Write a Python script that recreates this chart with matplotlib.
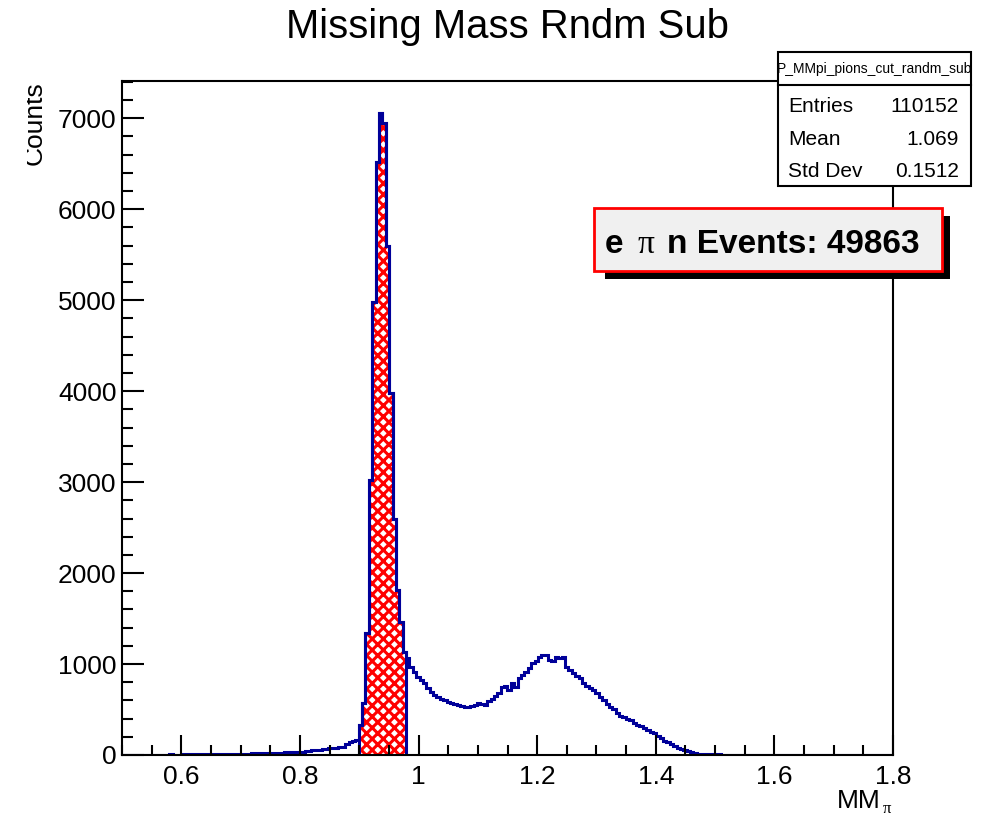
import numpy as np
import matplotlib.pyplot as plt
from matplotlib.patches import Rectangle
from matplotlib.ticker import MultipleLocator, FixedLocator
from matplotlib.transforms import Bbox

plt.rcParams['font.family'] = ['Liberation Sans', 'DejaVu Sans']
plt.rcParams['hatch.linewidth'] = 2.2

# ---- data ----
x_min, x_max = 0.5, 1.8
y_max = 7410

counts_tail = [2, 0, 3, 1, 2, 4, 0, 3, 2, 5, 1, 3, 4, 2, 6, 3, 5, 4,
               6, 8, 5, 7, 9, 6, 10, 8, 7, 11, 9, 12, 10, 8, 13, 11, 14, 12,
               15, 13, 17, 16, 19, 18, 22, 20, 24, 21, 26, 25, 28, 27, 31, 30, 34,
               38, 42, 45, 50, 55, 58, 62, 68, 72, 76, 80, 86, 92,
               120, 145, 150, 165]
counts_peak = [330, 570, 1340, 3020, 4980, 6520, 7060, 6950,
               5600, 3980, 2600, 1810, 1460, 1130, 1070, 970]
counts_hump = [910, 860, 820, 790, 740, 690, 660, 640, 620, 600,
               585, 570, 560, 550, 535, 530, 525, 535, 545, 570,
               560, 550, 595, 620, 650, 680, 750, 760, 715, 790,
               750, 845, 880, 910, 960, 1010, 1030, 1080, 1100, 1100,
               1040, 1035, 1080, 1070, 1075, 970, 935, 900, 870, 845,
               790, 760, 740, 715, 680, 640, 610, 560, 530, 505,
               460, 430, 415, 395, 380, 350, 330, 315, 295, 270,
               250, 240, 210, 185, 150, 140, 120, 95, 80, 70,
               55, 40, 32, 22, 15, 10]
counts_end = [8, 7, 6, 5, 6, 4, 5, 3, 4, 3,
              2, 3, 2, 2, 1, 2, 1, 1, 2, 0,
              1, 1, 0, 1, 0, 0, 1, 0, 0, 1,
              0, 0, 0, 1, 0, 0, 0, 0, 1, 0,
              0, 0, 0, 0, 0, 1, 0, 0, 0, 0,
              0, 0, 0, 0, 0, 0]

cut_lo, cut_hi = 0.899, 0.979

x_ticks = [0.6, 0.8, 1.0, 1.2, 1.4, 1.6, 1.8]
x_tick_labels = ['0.6', '0.8', '1', '1.2', '1.4', '1.6', '1.8']
y_ticks = [0, 1000, 2000, 3000, 4000, 5000, 6000, 7000]

hist_name = 'P_MMpi_pions_cut_randm_sub'
stat_names = ['Entries', 'Mean', 'Std Dev']
stat_values = ['110152', '1.069', '0.1512']
n_events = 49863

# ---- histogram arrays ----
counts = np.array(counts_tail + counts_peak + counts_hump + counts_end, dtype=float)
edges = np.linspace(x_min, x_max, len(counts) + 1)
centers = 0.5 * (edges[:-1] + edges[1:])
in_cut = np.where((centers >= cut_lo) & (centers <= cut_hi))[0]
i0, i1 = in_cut[0], in_cut[-1] + 1

W, H = 985, 817
fig = plt.figure(figsize=(W / 100, H / 100), dpi=100)
ax = fig.add_axes([122 / W, 1 - 755 / H, 771 / W, 674 / H])

blue = '#000099'
ax.stairs(counts[i0:i1], edges[i0:i1 + 1], fill=True, facecolor='white',
          edgecolor='red', hatch='xxx', linewidth=0)
ax.stairs(counts, edges, color=blue, linewidth=2.2)
ax.stairs(counts[i0:i1], edges[i0:i1 + 1], color=blue, linewidth=2.2)

ax.set_xlim(x_min, x_max)
ax.set_ylim(0, y_max)
ax.xaxis.set_major_locator(FixedLocator(x_ticks))
ax.set_xticklabels(x_tick_labels)
ax.xaxis.set_minor_locator(MultipleLocator(0.05))
ax.yaxis.set_major_locator(FixedLocator(y_ticks))
ax.yaxis.set_minor_locator(MultipleLocator(200))

ax.tick_params(axis='both', which='both', direction='in', width=1.5,
               top=False, right=False, labelsize=19)
ax.tick_params(axis='x', which='major', length=14.4, pad=7)
ax.tick_params(axis='x', which='minor', length=7.2)
ax.tick_params(axis='y', which='major', length=16, pad=4)
ax.tick_params(axis='y', which='minor', length=8)
for s in ax.spines.values():
    s.set_linewidth(1.5)

# ---- overlay in pixel coordinates for texts and boxes ----
ov = fig.add_axes([0, 0, 1, 1], zorder=5)
ov.set_xlim(0, W)
ov.set_ylim(H, 0)
ov.axis('off')

ov.text(507, 38, 'Missing Mass Rndm Sub', ha='center', va='baseline', fontsize=28.8)

t = ov.text(42, 81, 'Counts', rotation=90, rotation_mode='anchor',
            ha='right', va='baseline', fontsize=19)
t.set_clip_box(Bbox.from_extents(27, 0, W, H))
t.set_clip_on(True)

ov.text(881, 808, 'MM', ha='right', va='baseline', fontsize=19)
ov.text(883, 813, '\u03c0', ha='left', va='baseline', fontsize=12,
        family=['Liberation Serif', 'DejaVu Serif'])

# stats box
box = Rectangle((778, 52), 193, 134, facecolor='white', edgecolor='black', linewidth=1.5)
ov.add_patch(box)
ov.plot([778, 971], [85, 85], color='black', linewidth=1.5)
tn = ov.text(874.5, 73, hist_name, ha='center', va='baseline', fontsize=10)
tn.set_clip_path(box)
for row, (name, val) in enumerate(zip(stat_names, stat_values)):
    yb = 112 + row * 32.5
    ov.text(788, yb, name, ha='left', va='baseline', fontsize=15)
    ov.text(959, yb, val, ha='right', va='baseline', fontsize=15)

# events box with shadow
ov.add_patch(Rectangle((605, 216), 345, 63, facecolor='black', edgecolor='none'))
ov.add_patch(Rectangle((594, 208), 348, 63, facecolor='#f0f0f0', edgecolor='red', linewidth=2))
ov.text(605, 253, 'e', ha='left', va='baseline', fontsize=24, fontweight='bold')
ov.text(637, 253, '\u03c0', ha='left', va='baseline', fontsize=24,
        family=['Liberation Serif', 'DejaVu Serif'])
ov.text(667, 253, 'n Events: %d' % n_events, ha='left', va='baseline',
        fontsize=24, fontweight='bold')

fig.savefig('out.png', dpi=100)
